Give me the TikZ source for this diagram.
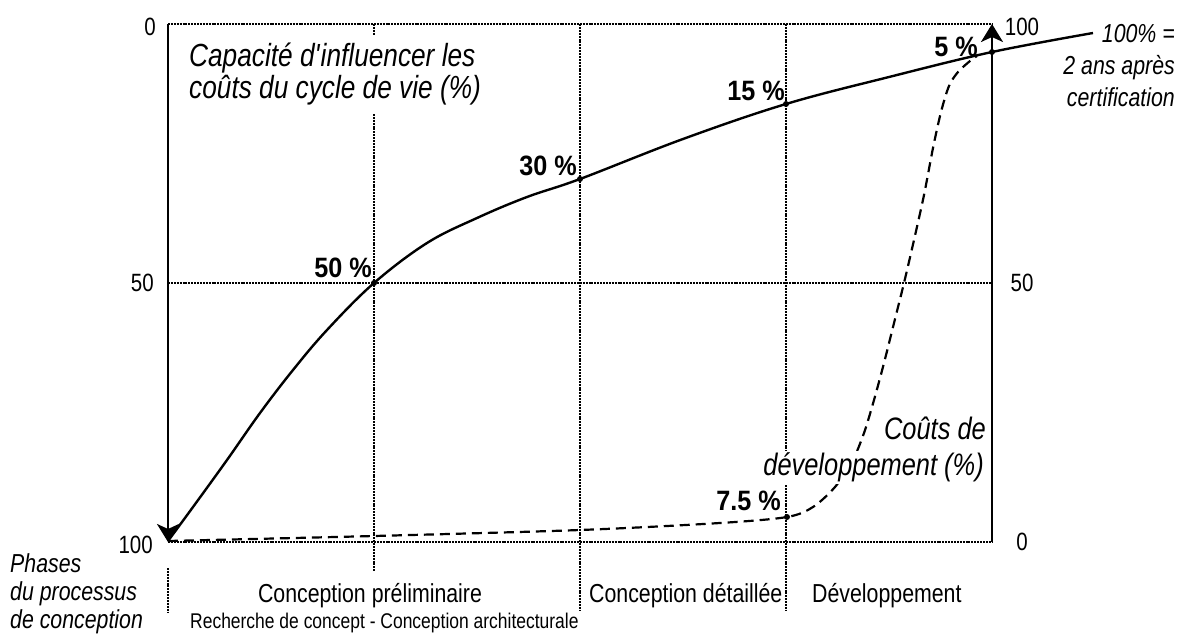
\documentclass[tikz,border=0pt]{standalone}
\usepackage{fontspec}
\setmainfont{Liberation Sans}[FakeStretch=0.82]
\newfontfamily\pctfont{Liberation Sans}[FakeStretch=0.9]
\usetikzlibrary{arrows.meta}
\begin{document}
\begin{tikzpicture}[x=1pt,y=-1pt,
  frameline/.style={line width=2.4pt, dash pattern=on 2pt off 0.9pt},
  axisline/.style={line width=2.6pt},
  lifecurve/.style={line width=2.4pt},
  costcurve/.style={line width=2.2pt, dash pattern=on 10pt off 6pt},
  tipped/.style={-{Stealth[length=18pt,width=22pt,inset=5pt]}},
  pct/.style={font=\pctfont\bfseries\fontsize{28}{30}\selectfont, inner sep=0pt, anchor=east},
  num/.style={font=\fontsize{25}{27}\selectfont, inner sep=0pt},
  phase/.style={font=\fontsize{26}{28}\selectfont, inner sep=0pt},
  ptdot/.style={circle, fill=black, inner sep=0pt, minimum size=6pt},
]
\useasboundingbox (0,0) rectangle (1184,635);
% frame and grid coordinates
\coordinate (TL) at (168,24);
\coordinate (BL) at (168,542);
\coordinate (TR) at (992,24);
\coordinate (BR) at (992,542);
\coordinate (ML) at (168,283);
\coordinate (MR) at (992,283);
\coordinate (G1t) at (374,24);
\coordinate (G1b) at (374,571);
\coordinate (G2t) at (580,24);
\coordinate (G2b) at (580,610);
\coordinate (G3t) at (786,24);
\coordinate (G3b) at (786,611);
\coordinate (K1) at (168,568);
\coordinate (K2) at (168,613);
% grid
\draw[frameline] (TL) -- (TR);
\draw[frameline] (BL) -- (BR);
\draw[frameline] (ML) -- (MR);
\draw[frameline] (G1t) -- (G1b);
\draw[frameline] (G2t) -- (G2b);
\draw[frameline] (G3t) -- (G3b);
\draw[frameline] (K1) -- (K2);
% title block (white background hides grid line)
\node[font=\itshape\fontsize{32}{32}\selectfont, align=left, anchor=north west,
      fill=white, inner xsep=3pt, inner ysep=8pt] (cap) at (186,35)
  {Capacité d\textquotesingle influencer les\\coûts du cycle de vie (\%)};
% curves
\draw[lifecurve] plot[smooth, tension=0.6] coordinates {
  (168,541) (193,507) (227,460) (260,413) (293,370) (327,330) (374,283)
  (427,243) (477,218) (527,197) (580,179) (683,139) (786,104) (889,77)
  (992,52) (1093,33)};
\draw[costcurve] plot[smooth, tension=0.5] coordinates {
  (168,541) (374,536) (580,530) (720,523) (787,517) (813,507) (835,487)
  (852,462) (864,433) (874,400) (884,363) (894,323) (904,283) (914,240)
  (924,195) (933,148) (941,112) (949,86) (958,72) (970,61) (977,56)};
% axes
\draw[axisline, tipped] (TL) -- (BL);
\draw[axisline, tipped] (BR) -- (TR);
% points
\node[ptdot] (p50) at (374,283) {};
\node[ptdot] (p30) at (580,179) {};
\node[ptdot] (p15) at (786,104) {};
\node[ptdot] (p5) at (992,52) {};
\node[ptdot] (p75) at (787,517) {};
% percent labels
\node[pct] (l50) at (372,268) {50 \%};
\node[pct] (l30) at (577,166) {30 \%};
\node[pct] (l15) at (785,91) {15 \%};
\node[pct] (l5) at (978,47) {5 \%};
\node[pct] (l75) at (781,501) {7.5 \%};
% axis numbers
\node[num, anchor=east] (y0) at (156,27) {0};
\node[num, anchor=east] (y50) at (154,283) {50};
\node[num, anchor=east] (y100) at (153,545) {100};
\node[num] (r100) at (1022,27) {100};
\node[num] (r50) at (1022,283) {50};
\node[num] (r0) at (1022,542) {0};
% side texts
\node[font=\itshape\fontsize{31}{36}\selectfont, align=right, anchor=north east,
      inner sep=0pt] (dev) at (986,417)
  {Coûts de\\{\fboxsep=2pt\colorbox{white}{développement (\%)}}};
\node[font=\itshape\fontsize{26}{32}\selectfont, align=right, anchor=north east,
      inner sep=0pt] (cert) at (1175,24)
  {100\% =\\2 ans après\\certification};
\node[font=\itshape\fontsize{26}{28}\selectfont, align=left, anchor=north west,
      inner sep=0pt] (ph) at (10,553)
  {Phases\\du processus\\de conception};
% phase labels
\node[phase, anchor=base] (ph1) at (370,602) {Conception préliminaire};
\node[phase, anchor=base west] (ph2) at (589,602) {Conception détaillée};
\node[phase, anchor=base west] (ph3) at (812,602) {Développement};
\node[font=\fontsize{21.3}{23}\selectfont, inner sep=0pt, anchor=base west] (ph1b)
  at (190,628) {Recherche de concept - Conception architecturale};
\end{tikzpicture}
\end{document}
